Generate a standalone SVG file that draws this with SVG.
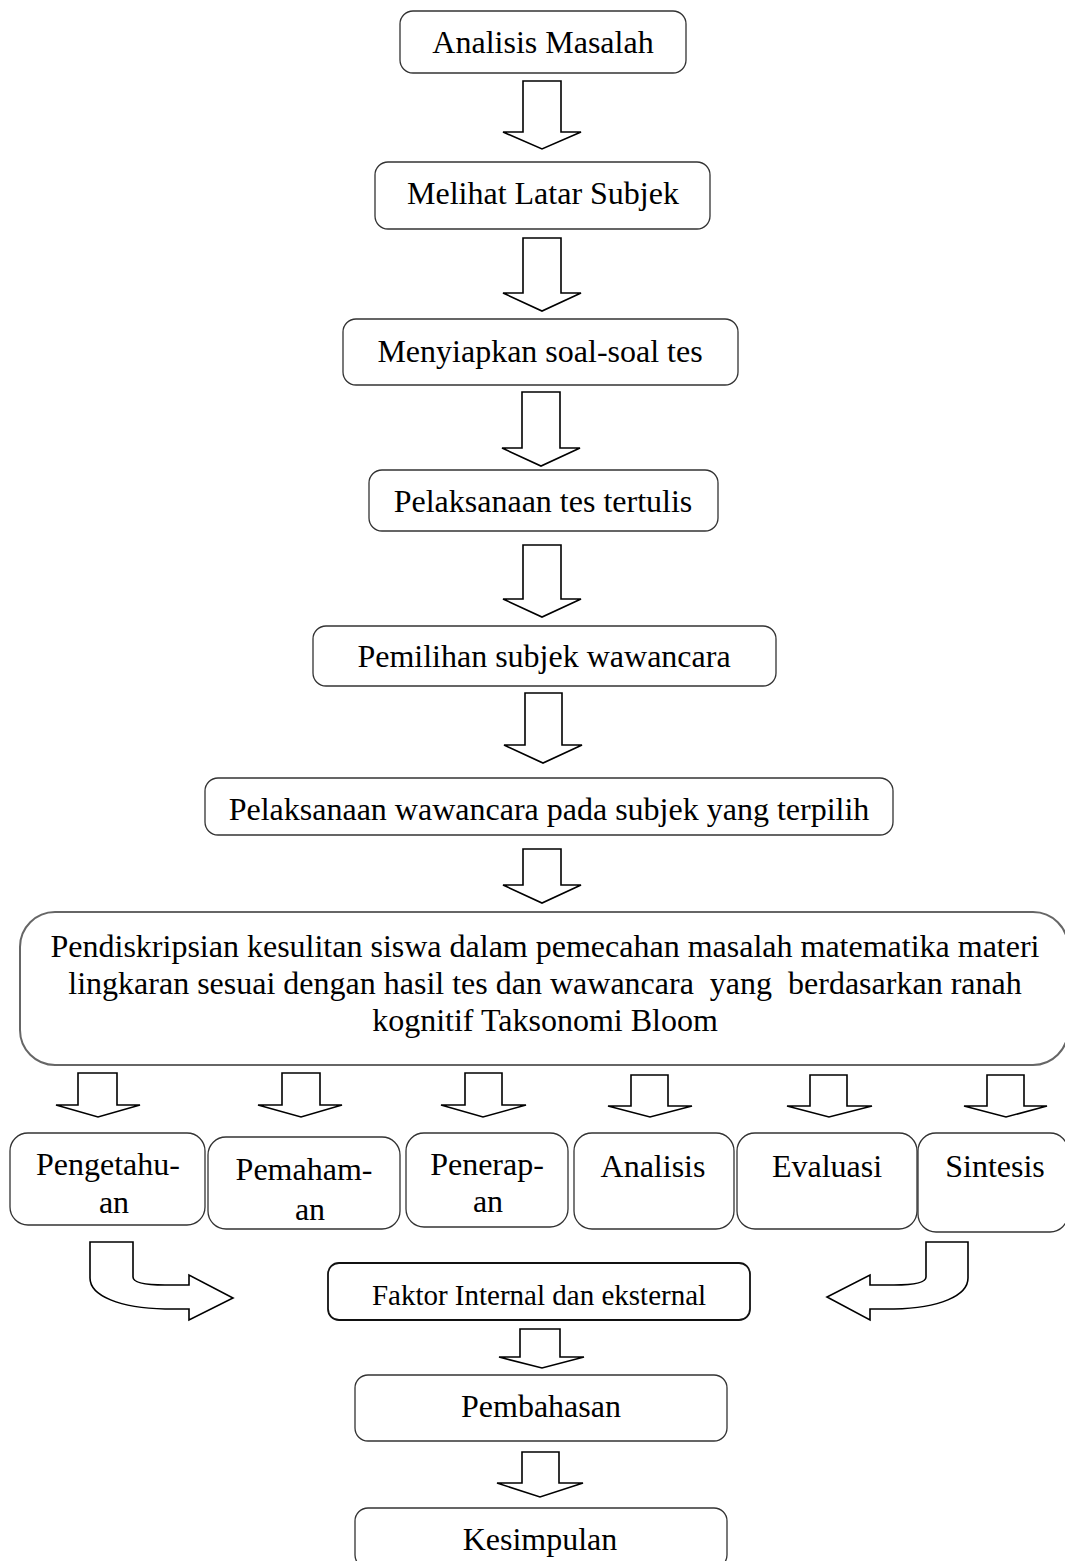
<svg xmlns="http://www.w3.org/2000/svg" width="1065" height="1561" viewBox="0 0 1065 1561">
<style>
.box{fill:#fff;stroke:#333;stroke-width:1.3}
.big{fill:#fff;stroke:#666;stroke-width:2}
.arr{fill:#fff;stroke:#000;stroke-width:1.6;stroke-linejoin:miter}
text{font-family:"Liberation Serif","Times New Roman",serif;font-size:32px;fill:#000;text-anchor:middle}
.sm{font-size:29px}
</style>
<rect width="1065" height="1561" fill="#fff"/>
<g id="connectors">
<path class="arr" d="M523,81 H561 V132 H581 L542,149 L503,132 H523 Z"/>
<path class="arr" d="M523,238 H561 V293 H581 L542,311 L503,293 H523 Z"/>
<path class="arr" d="M522,392 H560 V448 H580 L541,466 L502,448 H522 Z"/>
<path class="arr" d="M523,545 H561 V599 H581 L542,617 L503,599 H523 Z"/>
<path class="arr" d="M525,693 H562 V745 H582 L543,763 L504,745 H525 Z"/>
<path class="arr" d="M523,849 H561 V885 H581 L542,903 L503,885 H523 Z"/>
<path class="arr" d="M78,1073 H117 V1105 H140 L98,1117 L56,1105 H78 Z"/>
<path class="arr" d="M282,1073 H320 V1105 H342 L301,1117 L258,1105 H282 Z"/>
<path class="arr" d="M465,1073 H502 V1105 H526 L483,1117 L441,1105 H465 Z"/>
<path class="arr" d="M631,1075 H668 V1106 H692 L650,1117 L608,1106 H631 Z"/>
<path class="arr" d="M810,1075 H847 V1106 H872 L829,1117 L787,1106 H810 Z"/>
<path class="arr" d="M987,1075 H1024 V1106 H1047 L1006,1117 L964,1106 H987 Z"/>
<path class="arr" d="M90,1242 H133 V1277 C133,1283 148,1285 165,1285 H189 V1275 L233,1298 L189,1320 V1309 H165 C120,1308 90,1296 90,1278 Z"/>
<path class="arr" d="M968,1242 H926 V1277 C926,1283 911,1285 894,1285 H870 V1275 L827,1297 L870,1320 V1309 H894 C939,1308 968,1296 968,1278 Z"/>
<path class="arr" d="M520,1329 H560 V1357 H584 L542,1368 L499,1357 H520 Z"/>
<path class="arr" d="M522,1452 H559 V1483 H583 L540,1497 L497,1483 H522 Z"/>
</g>
<g id="n1"><rect class="box" x="400" y="11" width="286" height="62" rx="13"/><text x="543" y="53">Analisis Masalah</text></g>
<g id="n2"><rect class="box" x="375" y="162" width="335" height="67" rx="13"/><text x="543" y="204">Melihat Latar Subjek</text></g>
<g id="n3"><rect class="box" x="343" y="319" width="395" height="66" rx="13"/><text x="540" y="362">Menyiapkan soal-soal tes</text></g>
<g id="n4"><rect class="box" x="369" y="470" width="349" height="61" rx="13"/><text x="543" y="512">Pelaksanaan tes tertulis</text></g>
<g id="n5"><rect class="box" x="313" y="626" width="463" height="60" rx="13"/><text x="544" y="667">Pemilihan subjek wawancara</text></g>
<g id="n6"><rect class="box" x="205" y="778" width="688" height="57" rx="13"/><text x="549" y="820">Pelaksanaan wawancara pada subjek yang terpilih</text></g>
<g id="n7"><rect class="big" x="20" y="912" width="1048" height="153" rx="35"/>
<text x="545" y="957">Pendiskripsian kesulitan siswa dalam pemecahan masalah matematika materi</text>
<text x="545" y="994" xml:space="preserve">lingkaran sesuai dengan hasil tes dan wawancara  yang  berdasarkan ranah</text>
<text x="545" y="1031">kognitif Taksonomi Bloom</text></g>
<g id="n8"><rect class="box" x="10" y="1133" width="195" height="92" rx="18"/><text x="108" y="1175">Pengetahu-</text><text x="114" y="1213">an</text></g>
<g id="n9"><rect class="box" x="208" y="1137" width="192" height="92" rx="18"/><text x="304" y="1180">Pemaham-</text><text x="310" y="1220">an</text></g>
<g id="n10"><rect class="box" x="406" y="1133" width="162" height="94" rx="18"/><text x="487" y="1175">Penerap-</text><text x="488" y="1212">an</text></g>
<g id="n11"><rect class="box" x="574" y="1133" width="160" height="96" rx="18"/><text x="653" y="1177">Analisis</text></g>
<g id="n12"><rect class="box" x="737" y="1133" width="180" height="96" rx="18"/><text x="827" y="1177">Evaluasi</text></g>
<g id="n13"><rect class="box" x="918" y="1133" width="150" height="99" rx="18"/><text x="995" y="1177">Sintesis</text></g>
<g id="n14"><rect class="box" x="328" y="1263" width="422" height="57" rx="11" style="stroke-width:1.8;stroke:#111"/><text class="sm" x="539" y="1305">Faktor Internal dan eksternal</text></g>
<g id="n15"><rect class="box" x="355" y="1375" width="372" height="66" rx="13"/><text x="541" y="1417">Pembahasan</text></g>
<g id="n16"><rect class="box" x="355" y="1508" width="372" height="60" rx="13"/><text x="540" y="1550">Kesimpulan</text></g>
</svg>
